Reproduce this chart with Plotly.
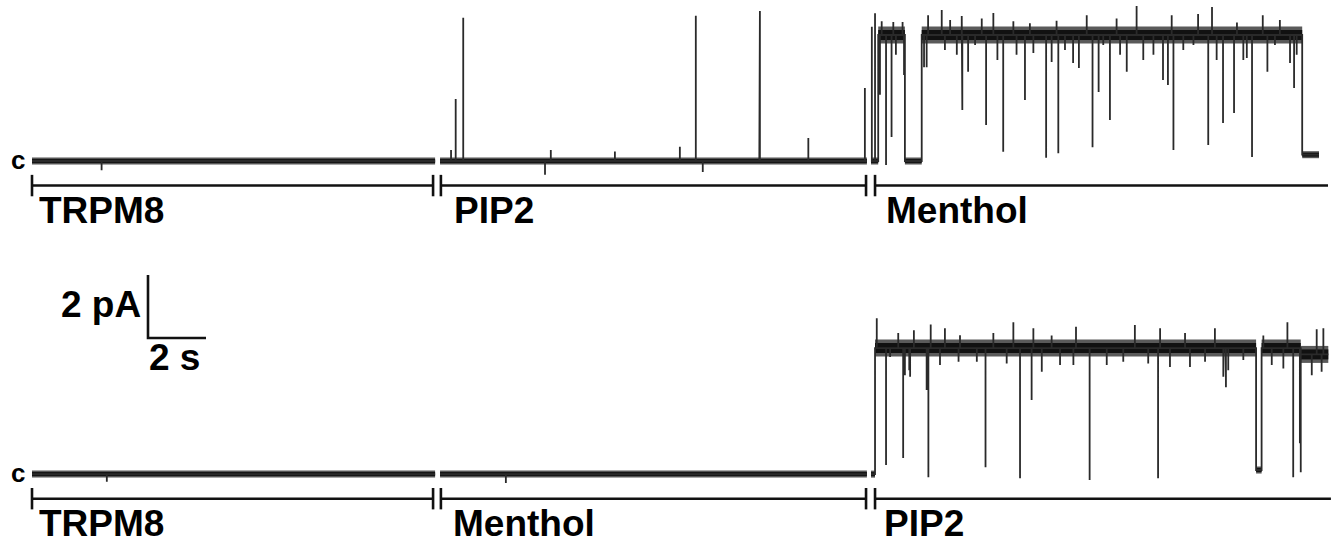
import plotly.graph_objects as go

# ---------------- data (time in s, current in pA) ----------------
# Top record: TRPM8 -> PIP2 -> Menthol
TOP_PLATEAU_START = [0.0, 14.07, 28.93, 29.18, 30.10, 30.68, 43.80]
TOP_PLATEAU_END = [13.90, 28.79, 29.18, 30.10, 30.68, 43.80, 44.38]
TOP_PLATEAU_LEVEL = [0.0, 0.0, 0.0, 4.0, 0.0, 4.0, 0.2]

# brief events (time, peak current)
TOP_EVENT_T = [2.40, 14.45, 14.61, 14.87, 17.69, 17.89, 20.10, 22.34, 22.89, 23.13,
               25.08, 25.10, 26.77, 28.72,
               28.96, 29.07,
               29.24, 29.30, 29.45, 29.64, 29.70, 29.79, 30.02, 30.07,
               30.76, 30.90, 31.37, 31.66, 32.06, 32.08, 32.28, 32.75, 32.90,
               33.15, 33.49, 33.84, 34.24, 34.41, 34.97, 35.33, 35.39, 35.90,
               36.10, 36.37, 36.57, 36.78, 37.17, 37.40, 37.75, 38.09, 39.00,
               39.17, 39.30, 39.36, 40.21, 40.56, 40.69, 41.07, 41.45, 41.55,
               42.07, 42.44, 42.60, 43.03, 43.38, 43.52]
TOP_EVENT_I = [-0.29, 0.35, 1.97, 4.55, -0.44, 0.35, 0.30, 0.45, 4.61, -0.35,
               2.92, 4.76, 0.73, 2.32,
               4.26, 4.69,
               2.10, 4.44, -0.13, 0.76, 4.41, 3.37, 4.41, 2.73,
               2.98, 4.63, 4.79, 4.48, 4.60, 1.62, 2.83, 4.52, 1.14,
               4.70, 0.29, 4.44, 1.94, 4.37, 0.10, 4.45, 0.25, 3.11,
               2.95, 4.63, 0.44, 2.19, 1.30, 4.52, 2.83, 4.92, 2.57,
               2.41, 4.63, 0.35, 4.67, 0.51, 4.89, 1.21, 1.52, 4.40,
               0.13, 4.63, 2.83, 4.48, 3.11, 2.32]
# smaller excursions inside the open-state noise band
TOP_NOISE_T = [30.85, 31.48, 31.89, 32.52, 33.29, 33.95, 34.53, 35.16, 35.62,
               36.94, 37.52, 38.32, 38.67, 39.70, 40.05, 40.85, 41.77, 41.89,
               42.86, 43.61]
TOP_NOISE_I = [2.98, 3.52, 3.37, 3.68, 3.21, 3.37, 3.43, 3.14, 3.52,
               3.68, 3.37, 3.21, 3.37, 3.52, 3.68, 3.21, 3.21, 3.27,
               3.68, 3.37]

# Bottom record: TRPM8 -> Menthol -> PIP2
BOT_PLATEAU_START = [0.0, 14.07, 28.93, 29.07, 42.21, 42.40, 43.75]
BOT_PLATEAU_END = [13.90, 28.79, 29.07, 42.21, 42.40, 43.75, 44.70]
BOT_PLATEAU_LEVEL = [0.0, 0.0, 0.0, 4.0, 0.13, 4.0, 3.8]

BOT_EVENT_T = [2.58, 16.34,
               29.13, 29.45, 29.87, 30.04, 30.10, 30.25, 30.41, 30.85, 30.91,
               30.99, 31.48, 32.00, 32.88, 33.15, 33.84, 34.07, 34.47, 34.53,
               35.16, 36.00, 36.47, 38.03, 38.83, 38.90, 39.76, 40.79, 41.10,
               41.17, 41.25, 42.46, 43.29, 43.49, 43.72, 43.75, 44.30, 44.53]
BOT_EVENT_I = [-0.24, -0.28,
               4.95, 0.29, 4.48, 0.51, 3.14, 3.30, 4.57, 2.67, -0.10,
               4.75, 4.63, 4.41, 0.22, 4.48, 4.82, -0.13, 2.35, 4.63,
               4.40, 4.68, -0.19, 4.73, -0.13, 4.63, 4.48, 4.63, 3.14,
               2.76, 3.30, 4.40, 4.82, -0.10, 0.98, 0.06, 4.60, 4.63]
BOT_NOISE_T = [29.59, 30.28, 31.31, 31.95, 32.58, 33.61, 34.82, 35.45, 35.91,
               37.06, 37.63, 38.49, 39.24, 39.93, 40.45, 41.08, 41.77, 42.75,
               43.15, 44.13, 44.47]
BOT_NOISE_I = [3.72, 3.09, 3.46, 3.57, 3.57, 3.51, 3.25, 3.46, 3.46,
               3.46, 3.57, 3.51, 3.40, 3.40, 3.57, 3.09, 3.62, 3.46,
               3.35, 3.14, 3.25]

BOTTOM_OFFSET = -9.94          # vertical offset of the lower record (pA)

# solution bars (start, end) and labels
TOP_BAR_START = [0.0, 14.10, 29.07]
TOP_BAR_END = [13.83, 28.76, 44.69]
TOP_LABELS = ["TRPM8", "PIP2", "Menthol"]
TOP_LABEL_T = [0.21, 14.52, 29.41]

BOT_BAR_START = [0.0, 14.10, 29.07]
BOT_BAR_END = [13.83, 28.76, 44.79]
BOT_LABELS = ["TRPM8", "Menthol", "PIP2"]
BOT_LABEL_T = [0.21, 14.47, 29.36]

# scale bar
SCALE_T0 = 4.0
SCALE_I0 = -5.62
SCALE_DT = 2.0      # s
SCALE_DI = 2.0      # pA

# ---------------- helpers ----------------
def build_trace(starts, ends, levels, ev_t, ev_i, offset):
    xs, ys = [], []
    events = sorted(zip(ev_t, ev_i))
    for k, (s, e, lv) in enumerate(zip(starts, ends, levels)):
        if k > 0 and abs(s - ends[k - 1]) > 1e-9:
            xs.append(None)
            ys.append(None)
        xs.append(s)
        ys.append(lv + offset)
        for t, i in events:
            if s <= t < e:
                xs += [t, t, t]
                ys += [lv + offset, i + offset, lv + offset]
        xs.append(e)
        ys.append(lv + offset)
    return xs, ys


def build_band(starts, ends, levels, offset, is_open):
    xs, ys = [], []
    for s, e, lv in zip(starts, ends, levels):
        if (lv > 2) == is_open:
            xs += [s, e, None]
            ys += [lv + offset, lv + offset, None]
    return xs, ys


FONT = "Arial, 'Liberation Sans', sans-serif"

fig = go.Figure()

records = [
    (TOP_PLATEAU_START, TOP_PLATEAU_END, TOP_PLATEAU_LEVEL,
     TOP_EVENT_T + TOP_NOISE_T, TOP_EVENT_I + TOP_NOISE_I, 0.0),
    (BOT_PLATEAU_START, BOT_PLATEAU_END, BOT_PLATEAU_LEVEL,
     BOT_EVENT_T + BOT_NOISE_T, BOT_EVENT_I + BOT_NOISE_I, BOTTOM_OFFSET),
]

for st, en, lv, et, ei, off in records:
    bx, by = build_band(st, en, lv, off, False)
    ox, oy = build_band(st, en, lv, off, True)
    # noise fringe, then dark core
    fig.add_trace(go.Scatter(x=bx, y=by, mode="lines",
                             line=dict(color="#555555", width=7), hoverinfo="skip"))
    fig.add_trace(go.Scatter(x=ox, y=oy, mode="lines",
                             line=dict(color="#5a5a5a", width=17), hoverinfo="skip"))
    fig.add_trace(go.Scatter(x=bx, y=by, mode="lines",
                             line=dict(color="#151515", width=4), hoverinfo="skip"))
    fig.add_trace(go.Scatter(x=ox, y=oy, mode="lines",
                             line=dict(color="#111111", width=10), hoverinfo="skip"))
    tx, ty = build_trace(st, en, lv, et, ei, off)
    fig.add_trace(go.Scatter(x=tx, y=ty, mode="lines",
                             line=dict(color="#2a2a2a", width=1.8), hoverinfo="skip"))

BAR_DY = -0.78
TICK_H = 0.34
LABEL_DY = -1.55

annotations = []
for bs, be, labels, lt, off in [
    (TOP_BAR_START, TOP_BAR_END, TOP_LABELS, TOP_LABEL_T, 0.0),
    (BOT_BAR_START, BOT_BAR_END, BOT_LABELS, BOT_LABEL_T, BOTTOM_OFFSET),
]:
    xs, ys = [], []
    for k, (s, e) in enumerate(zip(bs, be)):
        y0 = BAR_DY + off
        xs += [s, e, None, s, s, None]
        ys += [y0, y0, None, y0 - TICK_H, y0 + TICK_H, None]
        if k < len(bs) - 1:
            xs += [e, e, None]
            ys += [y0 - TICK_H, y0 + TICK_H, None]
    fig.add_trace(go.Scatter(x=xs, y=ys, mode="lines",
                             line=dict(color="#111111", width=2.6), hoverinfo="skip"))
    for name, t in zip(labels, lt):
        annotations.append(dict(x=t, y=LABEL_DY + off, text="<b>%s</b>" % name,
                                xanchor="left", yanchor="middle", showarrow=False,
                                height=32, valign="middle", borderpad=0,
                                font=dict(family=FONT, size=37, color="#000")))
    annotations.append(dict(x=-0.49, y=0.02 + off, text="<b>c</b>", xanchor="center",
                            yanchor="middle", showarrow=False,
                            font=dict(family=FONT, size=26, color="#000")))

# scale bar
fig.add_trace(go.Scatter(
    x=[SCALE_T0, SCALE_T0, SCALE_T0 + SCALE_DT],
    y=[SCALE_I0 + SCALE_DI, SCALE_I0, SCALE_I0],
    mode="lines", line=dict(color="#111111", width=2.6), hoverinfo="skip"))
annotations.append(dict(x=SCALE_T0 - 0.17, y=SCALE_I0 + 1.05, text="<b>2 pA</b>",
                        xanchor="right", yanchor="middle", showarrow=False,
                        font=dict(family=FONT, size=37, color="#000")))
annotations.append(dict(x=SCALE_T0 + 0.93, y=SCALE_I0 - 0.63, text="<b>2 s</b>",
                        xanchor="center", yanchor="middle", showarrow=False,
                        font=dict(family=FONT, size=37, color="#000")))

fig.update_layout(
    width=1331, height=543,
    margin=dict(l=0, r=0, t=0, b=0),
    paper_bgcolor="white", plot_bgcolor="white",
    showlegend=False,
    annotations=annotations,
    xaxis=dict(range=[-32 / 29, 1299 / 29], visible=False, fixedrange=True),
    yaxis=dict(range=[(161 - 543) / 31.5, 161 / 31.5], visible=False, fixedrange=True),
)

fig.write_html(
    "out.html",
    config={"displayModeBar": False},
    post_script="document.body.style.margin='0';document.body.style.padding='0';"
                "document.body.style.overflow='hidden';",
)
